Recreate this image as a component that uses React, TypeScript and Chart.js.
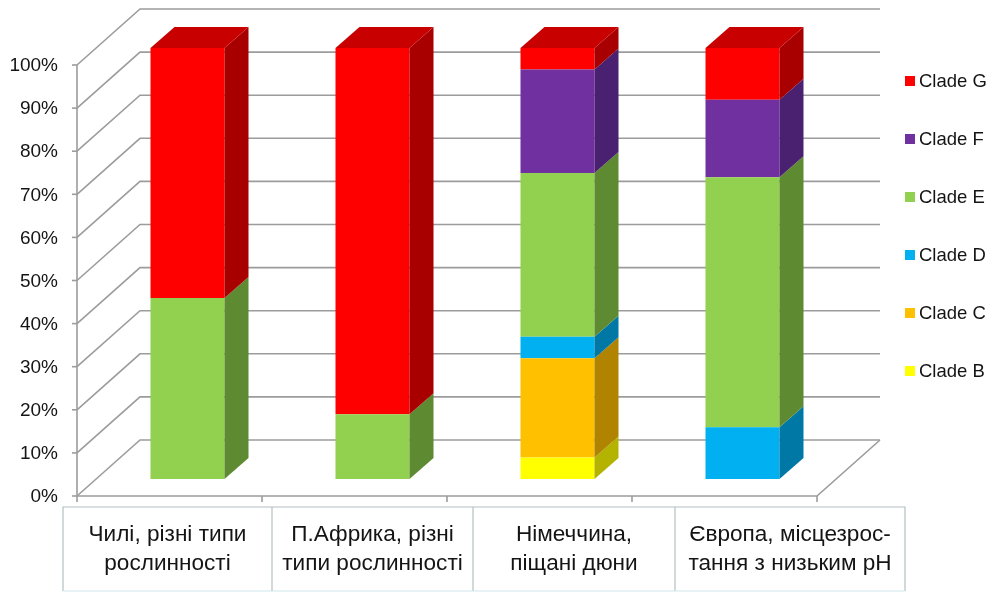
import { useEffect, useRef } from "react";
import { Chart, registerables } from "chart.js";

Chart.register(...registerables);

// ---- data ----
const categories: string[][] = [
  ["Чилі, різні типи", "рослинності"],
  ["П.Африка, різні", "типи рослинності"],
  ["Німеччина,", "піщані дюни"],
  ["Європа, місцезрос-", "тання з низьким pH"],
];
const seriesNames = ["Clade B", "Clade C", "Clade D", "Clade E", "Clade F", "Clade G"];
const cladeB = [0, 0, 5, 0];
const cladeC = [0, 0, 23, 0];
const cladeD = [0, 0, 5, 12];
const cladeE = [42, 15, 38, 58];
const cladeF = [0, 0, 24, 18];
const cladeG = [58, 85, 5, 12];
const yTickValues = [0, 10, 20, 30, 40, 50, 60, 70, 80, 90, 100];

// ---- styles ----
const frontColors = ["#FFFF00", "#FFC000", "#00B0F0", "#92D050", "#7030A0", "#FF0000"];
const sideColors = ["#B3B300", "#B08400", "#0078A6", "#5E8A32", "#4A2170", "#A80000"];
const topColors = ["#D9D900", "#D9A300", "#0095CC", "#7AB043", "#5C2888", "#C80000"];

const FONT = "'Liberation Sans', Arial, sans-serif";
const FRONT = { dx: -18, dy: 17 };
const BACK = { dx: 45, dy: -39 };
const DEPTH = { dx: 24, dy: -21 };
const GRID = "#9c9c9c";
const TEXT = "#141414";

const wallsPlugin = {
  id: "walls3d",
  beforeDatasetsDraw(chart: any) {
    const ctx = chart.ctx as CanvasRenderingContext2D;
    const ys = chart.scales.y;
    const { left, right } = chart.chartArea;
    ctx.save();
    ctx.strokeStyle = GRID;
    ctx.lineWidth = 1.6;
    for (const v of yTickValues) {
      const y = ys.getPixelForValue(v);
      ctx.beginPath();
      ctx.moveTo(left + FRONT.dx, y + FRONT.dy);
      ctx.lineTo(left + BACK.dx, y + BACK.dy);
      ctx.lineTo(right + BACK.dx, y + BACK.dy);
      ctx.stroke();
      ctx.beginPath();
      ctx.moveTo(left + FRONT.dx - 5, y + FRONT.dy);
      ctx.lineTo(left + FRONT.dx, y + FRONT.dy);
      ctx.stroke();
    }
    const y0 = ys.getPixelForValue(0);
    const y100 = ys.getPixelForValue(100);
    ctx.beginPath();
    ctx.moveTo(left + FRONT.dx, y100 + FRONT.dy);
    ctx.lineTo(left + FRONT.dx, y0 + FRONT.dy);
    ctx.stroke();
    ctx.beginPath();
    ctx.moveTo(left + FRONT.dx, y0 + FRONT.dy);
    ctx.lineTo(right + FRONT.dx, y0 + FRONT.dy);
    ctx.lineTo(right + BACK.dx, y0 + BACK.dy);
    ctx.stroke();
    const n = categories.length;
    const cw = (right - left) / n;
    for (let k = 0; k <= n; k++) {
      const x = left + k * cw + FRONT.dx;
      ctx.beginPath();
      ctx.moveTo(x, y0 + FRONT.dy);
      ctx.lineTo(x, y0 + FRONT.dy + 6);
      ctx.stroke();
    }
    ctx.fillStyle = TEXT;
    ctx.font = `19px ${FONT}`;
    ctx.textAlign = "right";
    ctx.textBaseline = "middle";
    for (const v of yTickValues) {
      const y = ys.getPixelForValue(v);
      ctx.fillText(`${v}%`, left + FRONT.dx - 19, y + FRONT.dy + 1);
    }
    // category table
    const cols = [63, 272, 473, 675, 905];
    const tTop = 507;
    const tBot = 591;
    ctx.strokeStyle = "#b4c0c1";
    ctx.lineWidth = 1.2;
    ctx.beginPath();
    ctx.moveTo(cols[0], tBot);
    ctx.lineTo(cols[0], tTop);
    ctx.lineTo(cols[cols.length - 1], tTop);
    ctx.lineTo(cols[cols.length - 1], tBot);
    for (let k = 1; k < cols.length - 1; k++) {
      ctx.moveTo(cols[k], tTop);
      ctx.lineTo(cols[k], tBot);
    }
    ctx.stroke();
    ctx.strokeStyle = "#cfe6ea";
    ctx.beginPath();
    ctx.moveTo(cols[0], tBot);
    ctx.lineTo(cols[cols.length - 1], tBot);
    ctx.stroke();
    ctx.fillStyle = TEXT;
    ctx.font = `22.6px ${FONT}`;
    ctx.textAlign = "center";
    ctx.textBaseline = "alphabetic";
    categories.forEach((lines, i) => {
      const cx = (cols[i] + cols[i + 1]) / 2;
      lines.forEach((ln, j) => ctx.fillText(ln, cx, 541 + j * 29));
    });
    // legend
    ctx.font = `18.5px ${FONT}`;
    ctx.textAlign = "left";
    ctx.textBaseline = "middle";
    const order = chart.data.datasets.map((_: any, i: number) => i).reverse();
    order.forEach((di: number, k: number) => {
      const ds = chart.data.datasets[di];
      const cy = 81 + k * 58;
      ctx.fillStyle = ds.backgroundColor;
      ctx.fillRect(905, cy - 5, 10, 10);
      ctx.fillStyle = TEXT;
      ctx.fillText(ds.label, 919, cy + 1);
    });
    ctx.restore();
  },
  afterDatasetsDraw(chart: any) {
    const ctx = chart.ctx as CanvasRenderingContext2D;
    const nDs = chart.data.datasets.length;
    ctx.save();
    for (let j = 0; j < categories.length; j++) {
      let topEl: any = null;
      let topIdx = -1;
      for (let i = 0; i < nDs; i++) {
        const meta = chart.getDatasetMeta(i);
        const el = meta.data[j];
        if (!el) continue;
        const { x, y, base, width } = el.getProps(["x", "y", "base", "width"], true);
        if (Math.abs(base - y) < 0.5) continue;
        const xR = x + width / 2;
        ctx.fillStyle = sideColors[i];
        ctx.beginPath();
        ctx.moveTo(xR, y);
        ctx.lineTo(xR + DEPTH.dx, y + DEPTH.dy);
        ctx.lineTo(xR + DEPTH.dx, base + DEPTH.dy);
        ctx.lineTo(xR, base);
        ctx.closePath();
        ctx.fill();
        topEl = { x, y, width };
        topIdx = i;
      }
      if (topEl) {
        const xL = topEl.x - topEl.width / 2;
        const xR = topEl.x + topEl.width / 2;
        const y = topEl.y;
        ctx.fillStyle = topColors[topIdx];
        ctx.beginPath();
        ctx.moveTo(xL, y);
        ctx.lineTo(xL + DEPTH.dx, y + DEPTH.dy);
        ctx.lineTo(xR + DEPTH.dx, y + DEPTH.dy);
        ctx.lineTo(xR, y);
        ctx.closePath();
        ctx.fill();
      }
    }
    ctx.restore();
  },
};

export default function App() {
  const ref = useRef<HTMLCanvasElement | null>(null);
  useEffect(() => {
    if (!ref.current) return;
    const values = [cladeB, cladeC, cladeD, cladeE, cladeF, cladeG];
    const chart = new Chart(ref.current, {
      type: "bar",
      data: {
        labels: categories.map((c) => c.join(" ")),
        datasets: values.map((d, i) => ({
          label: seriesNames[i],
          data: d,
          backgroundColor: frontColors[i],
          borderWidth: 0,
          barPercentage: 0.4,
          categoryPercentage: 1,
        })),
      },
      options: {
        responsive: false,
        animation: false,
        layout: { padding: { left: 95, right: 157, top: 48, bottom: 113 } },
        plugins: { legend: { display: false }, tooltip: { enabled: false } },
        scales: {
          x: { stacked: true, display: false },
          y: { stacked: true, display: false, min: 0, max: 100 },
        },
      },
      plugins: [wallsPlugin],
    });
    return () => chart.destroy();
  }, []);
  return (
    <div style={{ position: "absolute", left: 0, top: 0, width: 992, height: 592, background: "#fff" }}>
      <canvas ref={ref} width={992} height={592} style={{ width: 992, height: 592 }} />
    </div>
  );
}
